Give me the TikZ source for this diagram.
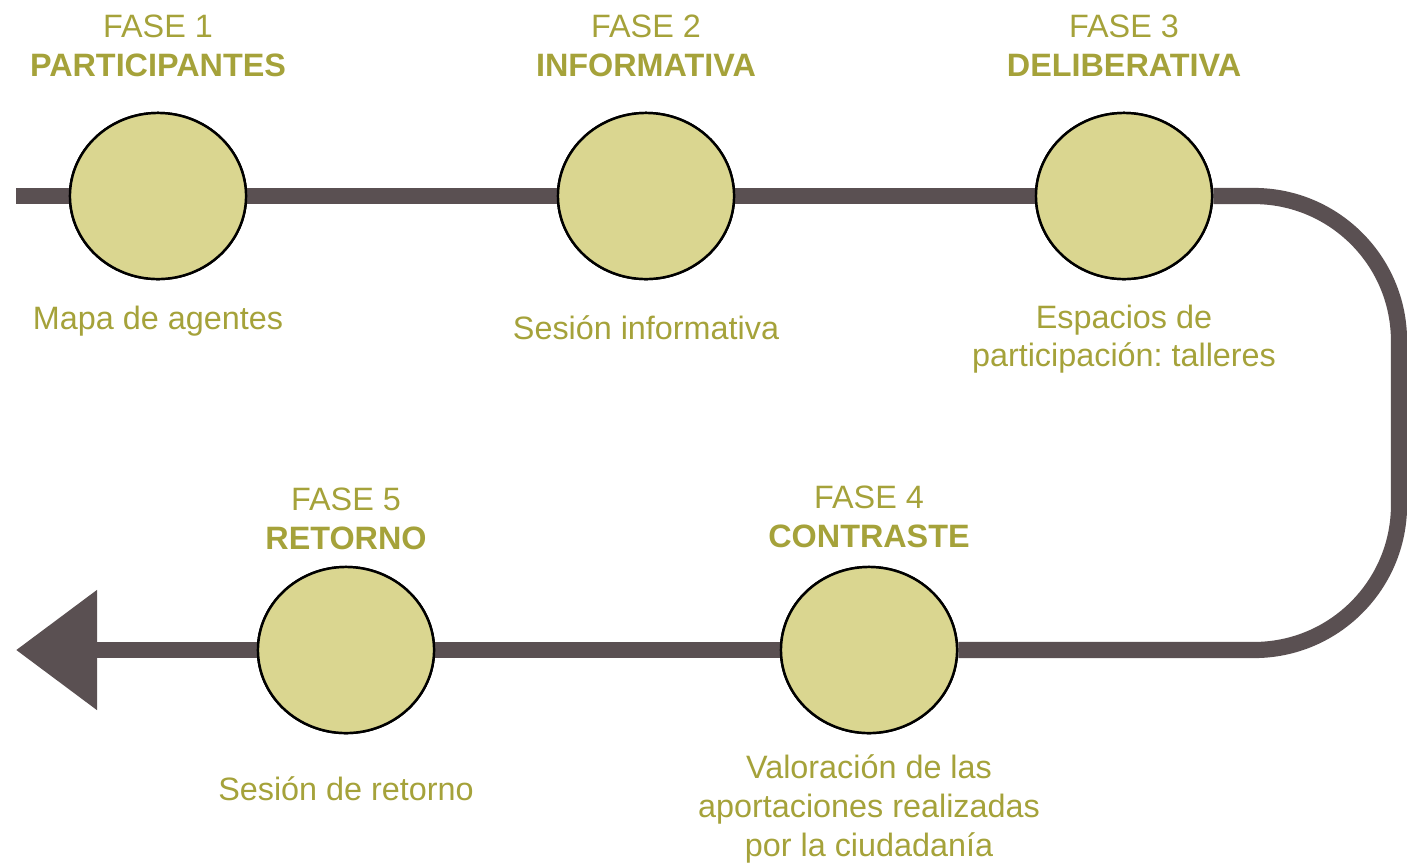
\documentclass[tikz,border=0pt]{standalone}
\usepackage{fontspec}
\setmainfont{Liberation Sans}
\usetikzlibrary{shapes.geometric,arrows.meta}
\frenchspacing

\definecolor{olivetext}{HTML}{A5A23A}
\definecolor{roadgray}{HTML}{5A5052}
\definecolor{phasefill}{HTML}{DAD690}

\tikzstyle{phase}=[ellipse,draw=black,line width=0.7pt,fill=phasefill,minimum width=1.76cm,minimum height=1.66cm,inner sep=0pt]
\tikzstyle{road} = [draw,line width=4.6pt,roadgray]
\tikzstyle{label} = [text=olivetext,align=center,font=\fontsize{9.2}{11}\selectfont]

\begin{document}
\begin{tikzpicture}[x=0.01cm,y=-0.01cm]
		\useasboundingbox (0,0) rectangle (1407,866);
		\coordinate (start) at (16,196);
		\coordinate (ne) at (1399,196);
		\coordinate (se) at (1399,650);
		\coordinate (tip) at (16,650);
		\node[phase] (f1) at (158,196) {};
		\node[phase] (f2) at (646,196) {};
		\node[phase] (f3) at (1124,196) {};
		\node[phase] (f4) at (869,650) {};
		\node[phase] (f5) at (346,650) {};
    		% The road between the phases
		\foreach \source/ \dest in {start/f1, f1/f2, f2/f3, f4/f5}
		 \path[road] (\source) -- (\dest);
		\path[road,rounded corners=1.45cm] (f3) -- (ne) -- (se) -- (f4);
		\path[road,-{Triangle[length=0.81cm,width=1.16cm]}] (f5) -- (tip);
		% Redraw the phases on top of the road
		\foreach \x/ \y in {158/196, 646/196, 1124/196, 869/650, 346/650}
		 \node[phase] at (\x,\y) {};
   		 % Titles
		\node[label] (t1) at (158,46) {FASE 1\\\textbf{PARTICIPANTES}};
		\node[label] (t2) at (646,46) {FASE 2\\\textbf{INFORMATIVA}};
		\node[label] (t3) at (1124,46) {FASE 3\\\textbf{DELIBERATIVA}};
		\node[label] (t4) at (869,517) {FASE 4\\\textbf{CONTRASTE}};
		\node[label] (t5) at (346,519) {FASE 5\\\textbf{RETORNO}};
		% Descriptions
		\node[label] (d1) at (158,321) {Mapa de agentes};
		\node[label] (d2) at (646,328) {Sesión informativa};
		\node[label] (d3) at (1124,339) {Espacios de\\participación: talleres};
		\node[label] (d4) at (869,809) {Valoración de las\\aportaciones realizadas\\por la ciudadanía};
		\node[label] (d5) at (346,789) {Sesión de retorno};
		\end{tikzpicture}
\end{document}
